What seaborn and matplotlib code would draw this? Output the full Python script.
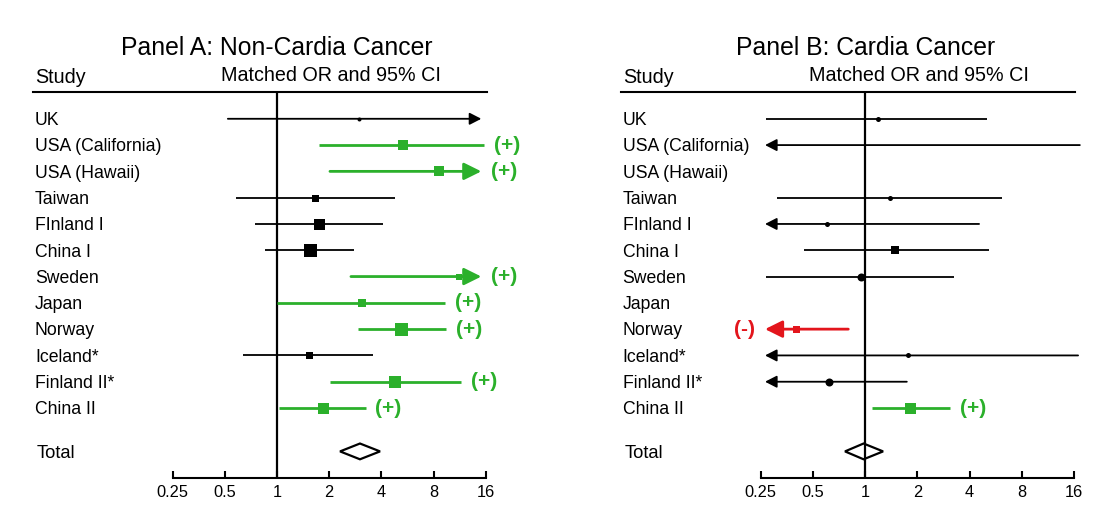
import numpy as np
import matplotlib
matplotlib.use("Agg")
import matplotlib.pyplot as plt
import seaborn as sns

# ---------------- data ----------------
studies = ["UK", "USA (California)", "USA (Hawaii)", "Taiwan", "FInland I", "China I",
           "Sweden", "Japan", "Norway", "Iceland*", "Finland II*", "China II"]
tick_vals = [0.25, 0.5, 1, 2, 4, 8, 16]
tick_labels = ["0.25", "0.5", "1", "2", "4", "8", "16"]

# Panel A: Non-Cardia  (lo == 0 -> below scale, hi == inf -> above scale)
a_est = [2.97, 5.3, 8.6, 1.66, 1.75, 1.55, 11.2, 3.08, 5.2, 1.53, 4.77, 1.83]
a_lo = [0.52, 1.75, 2.02, 0.58, 0.75, 0.85, 2.67, 1.0, 2.94, 0.64, 2.02, 1.03]
a_hi = [np.inf, 15.7, np.inf, 4.8, 4.07, 2.79, np.inf, 9.3, 9.5, 3.6, 11.5, 3.25]
a_weight = [4, 10, 10, 7, 11, 13, 6, 8, 13, 7, 12, 11]
a_shape = ["o", "s", "s", "s", "s", "s", "s", "s", "s", "s", "s", "s"]
a_sig = [0, 1, 1, 0, 0, 0, 1, 1, 1, 0, 1, 1]
a_total = [2.31, 3.01, 3.93]

# Panel B: Cardia
b_est = [1.18, np.nan, np.nan, 1.39, 0.60, 1.49, 0.95, np.nan, 0.40, 1.77, 0.62, 1.82]
b_lo = [0.27, 0.0, np.nan, 0.31, 0.0, 0.445, 0.268, np.nan, 0.0, 0.0, 0.0, 1.10]
b_hi = [5.03, 17.3, np.nan, 6.13, 4.54, 5.2, 3.26, np.nan, 0.80, 16.9, 1.74, 3.09]
b_weight = [5, 0, 0, 5, 5, 8, 8, 0, 7, 5, 8, 11]
b_shape = ["o", "o", "o", "o", "o", "s", "o", "o", "s", "o", "o", "s"]
b_sig = [0, 0, 0, 0, 0, 0, 0, 0, -1, 0, 0, 1]
b_total = [0.766, 0.98, 1.27]

# ---------------- style ----------------
sns.set_theme(style="white")
plt.rcParams["font.family"] = ["Liberation Sans", "DejaVu Sans"]
plt.rcParams["text.color"] = "black"
plt.rcParams["xtick.color"] = "black"
plt.rcParams["xtick.labelcolor"] = "black"

GREEN = "#2bb02b"
RED = "#e3151c"
BLACK = "#000000"
ARROW_LO = 0.265
ARROW_HI = 15.1
TOTAL_ROW = 12.65

fig = plt.figure(figsize=(11.06, 5.15), dpi=100)
axA = fig.add_axes([33 / 1106, 1 - 477.7 / 515, 453.7 / 1106, 386 / 515])
axB = fig.add_axes([620.7 / 1106, 1 - 477.7 / 515, 454.3 / 1106, 386 / 515])


def draw_panel(ax, title, est, lo, hi, weight, shape, sig, total):
    ax.set_xscale("log", base=2)
    ax.set_xlim(2 ** -4.68, 2 ** 4.02)
    ax.set_ylim(13.65, -1.03)
    ax.patch.set_alpha(0)
    for i in range(len(studies)):
        color = GREEN if sig[i] > 0 else (RED if sig[i] < 0 else BLACK)
        colored = sig[i] != 0
        lw = 2.0 if colored else 1.3
        if not np.isnan(lo[i]):
            arrow_l = lo[i] == 0
            arrow_r = np.isinf(hi[i])
            left = ARROW_LO if arrow_l else lo[i]
            right = ARROW_HI if arrow_r else hi[i]
            hl, hw = (10.5, 5.2) if colored else (7.0, 3.6)
            if arrow_l or arrow_r:
                tip = left if arrow_l else right
                tail = right if arrow_l else left
                ax.annotate("", xy=(tip, i), xytext=(tail, i),
                            arrowprops=dict(arrowstyle=f"-|>,head_length={hl},head_width={hw}",
                                            mutation_scale=1, color=color, lw=lw,
                                            shrinkA=0, shrinkB=0), zorder=3)
            else:
                ax.plot([left, right], [i, i], color=color, lw=lw,
                        solid_capstyle="butt", zorder=3)
            if not np.isnan(est[i]):
                sns.scatterplot(x=[est[i]], y=[i], marker=shape[i],
                                s=(weight[i] * 0.72) ** 2, color=color,
                                linewidth=0, ax=ax, zorder=5, legend=False)
            if sig[i] > 0:
                ax.annotate("(+)", xy=(right, i), xytext=(7, 0), textcoords="offset points",
                            ha="left", va="center", fontsize=15, fontweight="bold",
                            color=GREEN, annotation_clip=False)
            elif sig[i] < 0:
                ax.annotate("(-)", xy=(left, i), xytext=(-7, 0), textcoords="offset points",
                            ha="right", va="center", fontsize=15, fontweight="bold",
                            color=RED, annotation_clip=False)
        ax.annotate(studies[i], xy=(0, i), xycoords=ax.get_yaxis_transform(),
                    xytext=(1.4, -4.5), textcoords="offset points",
                    ha="left", va="baseline", fontsize=12.7, color=BLACK)

    # total diamond
    tlo, tes, thi = total
    h = 0.30
    ax.fill([tlo, tes, thi, tes], [TOTAL_ROW, TOTAL_ROW - h, TOTAL_ROW, TOTAL_ROW + h],
            fill=False, edgecolor=BLACK, lw=1.6, zorder=4)
    ax.annotate("Total", xy=(0, TOTAL_ROW), xycoords=ax.get_yaxis_transform(),
                xytext=(2.6, -4.7), textcoords="offset points",
                ha="left", va="baseline", fontsize=13.2, color=BLACK)

    ax.axvline(1, color=BLACK, lw=1.6, zorder=2)

    # headers
    ax.text(1, -2.42, title, ha="center", va="baseline", fontsize=17.8, color=BLACK)
    ax.annotate("Study", xy=(0, -1.37), xycoords=ax.get_yaxis_transform(),
                xytext=(1.4, 0), textcoords="offset points",
                ha="left", va="baseline", fontsize=14.2, color=BLACK)
    ax.text(2.05, -1.42, "Matched OR and 95% CI", ha="center", va="baseline",
            fontsize=14.2, color=BLACK)

    # axes styling
    for side in ["left", "right"]:
        ax.spines[side].set_visible(False)
    ax.spines["top"].set_linewidth(1.5)
    ax.spines["top"].set_color(BLACK)
    ax.spines["bottom"].set_linewidth(1.5)
    ax.spines["bottom"].set_color(BLACK)
    ax.spines["bottom"].set_bounds(tick_vals[0], tick_vals[-1])
    ax.set_xticks(tick_vals)
    ax.set_xticklabels(tick_labels)
    ax.xaxis.set_minor_locator(matplotlib.ticker.NullLocator())
    ax.set_yticks([])
    ax.tick_params(axis="x", direction="in", length=5.2, width=1.5, color=BLACK,
                   labelcolor=BLACK, labelsize=11.8, pad=5, bottom=True)
    ax.set_xlabel("")
    ax.set_ylabel("")


draw_panel(axA, "Panel A: Non-Cardia Cancer", a_est, a_lo, a_hi, a_weight, a_shape, a_sig, a_total)
draw_panel(axB, "Panel B: Cardia Cancer", b_est, b_lo, b_hi, b_weight, b_shape, b_sig, b_total)

fig.savefig("out.png", dpi=100)
